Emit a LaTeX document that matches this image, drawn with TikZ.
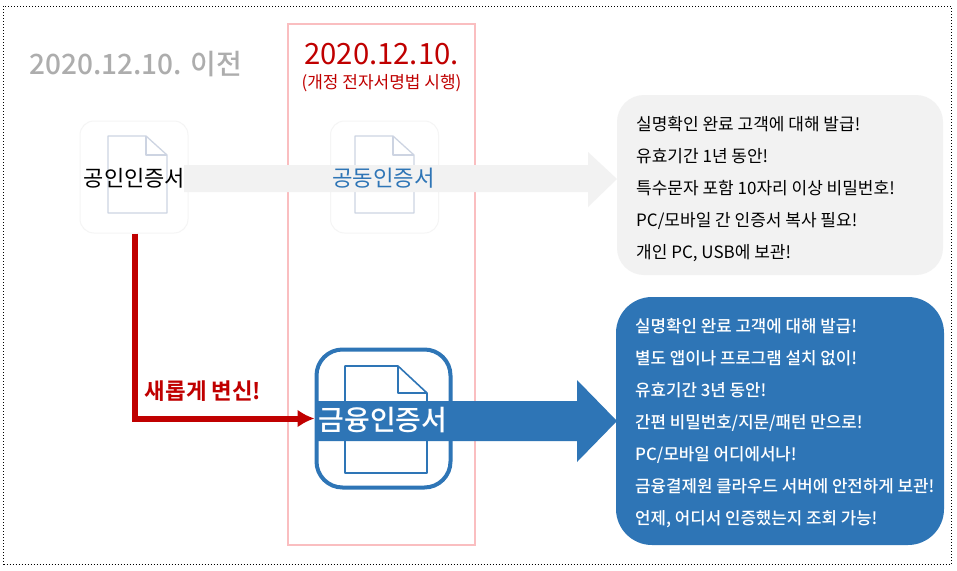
\documentclass[tikz,border=0pt]{standalone}
\usepackage{fontspec}
\setmainfont{Noto Sans CJK KR}
\newfontfamily\krbold{Noto Sans CJK KR Bold}
\newfontfamily\krmedium{Noto Sans CJK KR Medium}
\usetikzlibrary{arrows.meta}
\definecolor{pinkline}{RGB}{250,190,192}
\definecolor{certblue}{RGB}{46,117,182}
\definecolor{darkred}{RGB}{192,0,0}
\definecolor{panelgrey}{RGB}{242,242,242}
\definecolor{docgrey}{RGB}{205,212,226}
\tikzset{
 x=1pt,y=1pt,
 frameline/.style={draw=black,line width=1pt,dotted},
 iconbox/.style={draw=black!4,line width=1pt,rounded corners=14pt,minimum width=108pt,minimum height=112pt,inner sep=0},
 infotext/.style={align=left,anchor=west,inner sep=0,font=\fontsize{17}{32}\selectfont},
}
\newcommand{\docicon}[7]{% x0,x1,y0,y1,foldw,foldh,style
 \draw[#7,line join=round] (#1,#4) -- ({#2-#5},#4) -- (#2,{#4-#6}) -- (#2,#3) -- (#1,#3) -- cycle;
 \draw[#7,line join=round] ({#2-#5},#4) -- ({#2-#5},{#4-#6}) -- (#2,{#4-#6});
}
\begin{document}
\begin{tikzpicture}
\useasboundingbox (0,0) rectangle (957,-570);
\fill[white] (0,0) rectangle (957,-570);
\draw[frameline] (3.5,-6) rectangle (951,-564);
% pink column
\draw[pinkline,line width=2.2pt] (288,-24) rectangle (475,-545);
\node[text=black!32,font=\krmedium\fontsize{28}{30}\selectfont] (before) at (135.5,-64) {2020.12.10. 이전};
\node[text=darkred,font=\fontsize{29.3}{30}\selectfont] (date) at (381.5,-54) {2020.12.10.};
\node[text=darkred,font=\fontsize{17}{18}\selectfont] (law) at (381.5,-83) {(개정 전자서명법 시행)};
% icons top
\node[iconbox] (a) at (134,-177) {};
\node[iconbox] (b) at (384.5,-177) {};
\docicon{108}{167}{-213}{-136}{21}{19}{docgrey,line width=1.3pt}
\docicon{355}{414}{-213}{-136}{21}{19}{docgrey,line width=1.3pt}
% grey arrow
\fill[panelgrey] (184,-165) -- (588,-165) -- (588,-152) -- (617,-179) -- (588,-207) -- (588,-192) -- (184,-192) -- cycle;
\node[font=\fontsize{22}{26}\selectfont] (at) at (134.5,-178) {공인인증서};
\node[text=certblue,font=\fontsize{22.3}{26}\selectfont] (bt) at (383.5,-178) {공동인증서};
% big icon
\node[draw=certblue,line width=4pt,rounded corners=26pt,minimum width=134pt,minimum height=138pt,inner sep=0] (c) at (383.5,-418.5) {};
\docicon{345}{427}{-473}{-366}{29}{27}{certblue,line width=1.6pt}
% blue arrow
\fill[certblue] (315,-401) -- (577,-401) -- (577,-380) -- (617,-421) -- (577,-462) -- (577,-441) -- (315,-441) -- cycle;
\node[text=white,font=\krmedium\fontsize{28}{32}\selectfont] (ct) at (383,-420) {금융인증서};
% red connector
\coordinate (bend) at (135,-418.5);
\draw[darkred,line width=6pt,-{Latex[length=17pt,width=18pt]}] (a.south -| bend) -- (bend) -- (c.west);
\node[text=darkred,font=\krbold\fontsize{22.4}{24}\selectfont] (red) at (203,-391) {새롭게 변신!};
% panels
\node[fill=panelgrey,rounded corners=27pt,minimum width=326pt,minimum height=180pt,inner sep=0] (p1) at (780,-185) {};
\node[fill=certblue,rounded corners=36pt,minimum width=328pt,minimum height=248pt,inner sep=0] (p2) at (780,-421) {};
\node[infotext,text=black] (t1) at (636,-189) {실명확인 완료 고객에 대해 발급!\\유효기간 1년 동안!\\특수문자 포함 10자리 이상 비밀번호!\\PC/모바일 간 인증서 복사 필요!\\개인 PC, USB에 보관!};
\node[infotext,text=white,font=\krmedium\fontsize{16.8}{32}\selectfont] (t2) at (635,-423) {실명확인 완료 고객에 대해 발급!\\별도 앱이나 프로그램 설치 없이!\\유효기간 3년 동안!\\간편 비밀번호/지문/패턴 만으로!\\PC/모바일 어디에서나!\\금융결제원 클라우드 서버에 안전하게 보관!\\언제, 어디서 인증했는지 조회 가능!};
\end{tikzpicture}
\end{document}
